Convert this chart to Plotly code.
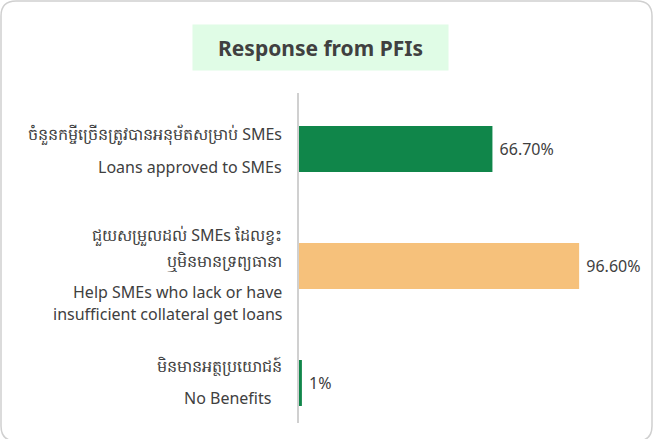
import plotly.graph_objects as go

# categories (top to bottom), Khmer / English label lines and responses
categories = ["Loans approved", "Lack collateral", "No benefits"]
khmer_lines = [
    ["ចំនួនកម្ចីច្រើនត្រូវបានអនុម័តសម្រាប់ SMEs"],
    ["ជួយសម្រួលដល់ SMEs ដែលខ្វះ", "ឬមិនមានទ្រព្យធានា"],
    ["មិនមានអត្ថប្រយោជន៍"],
]
english_lines = [
    ["Loans approved to SMEs"],
    ["Help SMEs who lack or have", "insufficient collateral get loans"],
    ["No Benefits"],
]
values = [0.667, 0.966, 0.01]
value_text = ["66.70%", "96.60%", "1%"]
bar_colors = ["#10864A", "#F6C17B", "#10864A"]

W, H = 662, 439
L, R, T, B = 299, 44, 93, 16
pw, ph = W - L - R, H - T - B
TXT = "#404040"
FONT = "'Noto Sans', Lato, sans-serif"

def px(x):
    return (x - L) / pw

def py(y):
    return (H - B - y) / ph

fig = go.Figure()
fig.add_trace(go.Bar(
    x=values, y=categories, orientation="h",
    marker=dict(color=bar_colors, line=dict(width=0)),
    text=value_text, textposition="outside", cliponaxis=False,
    texttemplate=" %{text}",
    textfont=dict(size=16, color=TXT),
    hoverinfo="skip",
))

# category labels: Khmer lines above, English lines below
khmer_shift = [[15], [31, 5], [17]]
english_shift = [[-18], [-26, -48], [-15]]
english_x = [0, 0, -11]
for cat, kl, el, ks, es, ex in zip(categories, khmer_lines, english_lines,
                                   khmer_shift, english_shift, english_x):
    for line, s in zip(kl, ks):
        fig.add_annotation(text=line, xref="x", yref="y", x=0, y=cat,
                           xanchor="right", yanchor="middle", xshift=-15, yshift=s,
                           showarrow=False, font=dict(size=16, color=TXT))
    for line, s in zip(el, es):
        fig.add_annotation(text=line, xref="x", yref="y", x=0, y=cat,
                           xanchor="right", yanchor="middle", xshift=-15 + ex, yshift=s,
                           showarrow=False, font=dict(size=16, color=TXT))

# rounded outer frame
x0, x1, y0, y1, r = 1, 652, 1, 441, 15
rx, ry = r / pw, r / ph
path = (
    f"M {px(x0)+rx} {py(y0)} L {px(x1)-rx} {py(y0)} Q {px(x1)} {py(y0)} {px(x1)} {py(y0)-ry} "
    f"L {px(x1)} {py(y1)+ry} Q {px(x1)} {py(y1)} {px(x1)-rx} {py(y1)} "
    f"L {px(x0)+rx} {py(y1)} Q {px(x0)} {py(y1)} {px(x0)} {py(y1)+ry} "
    f"L {px(x0)} {py(y0)-ry} Q {px(x0)} {py(y0)} {px(x0)+rx} {py(y0)} Z"
)
fig.add_shape(type="path", xref="paper", yref="paper", path=path,
              line=dict(color="#D0D0D0", width=1.5), layer="below")

fig.add_annotation(
    text="<b>Response from PFIs</b>", xref="paper", yref="paper",
    x=px(320.5), y=py(47.5), xanchor="center", yanchor="middle",
    showarrow=False, width=255, height=45, bgcolor="#E0FCE6", borderpad=0,
    font=dict(size=21, color=TXT),
)

fig.update_layout(
    width=W, height=H,
    margin=dict(l=L, r=R, t=T, b=B, autoexpand=False),
    paper_bgcolor="white", plot_bgcolor="white",
    font=dict(family=FONT, size=15, color=TXT),
    bargap=0.607,
    showlegend=False,
    xaxis=dict(range=[0, 1.1], visible=False),
    yaxis=dict(
        type="category", range=[2.342, -0.479], automargin=False,
        showline=True, linecolor="#D0D0D0", linewidth=2,
        showgrid=False, zeroline=False, ticks="", showticklabels=False,
    ),
)

fig.write_html("out.html", config={"displayModeBar": False},
               post_script="document.body.style.margin='0';")
